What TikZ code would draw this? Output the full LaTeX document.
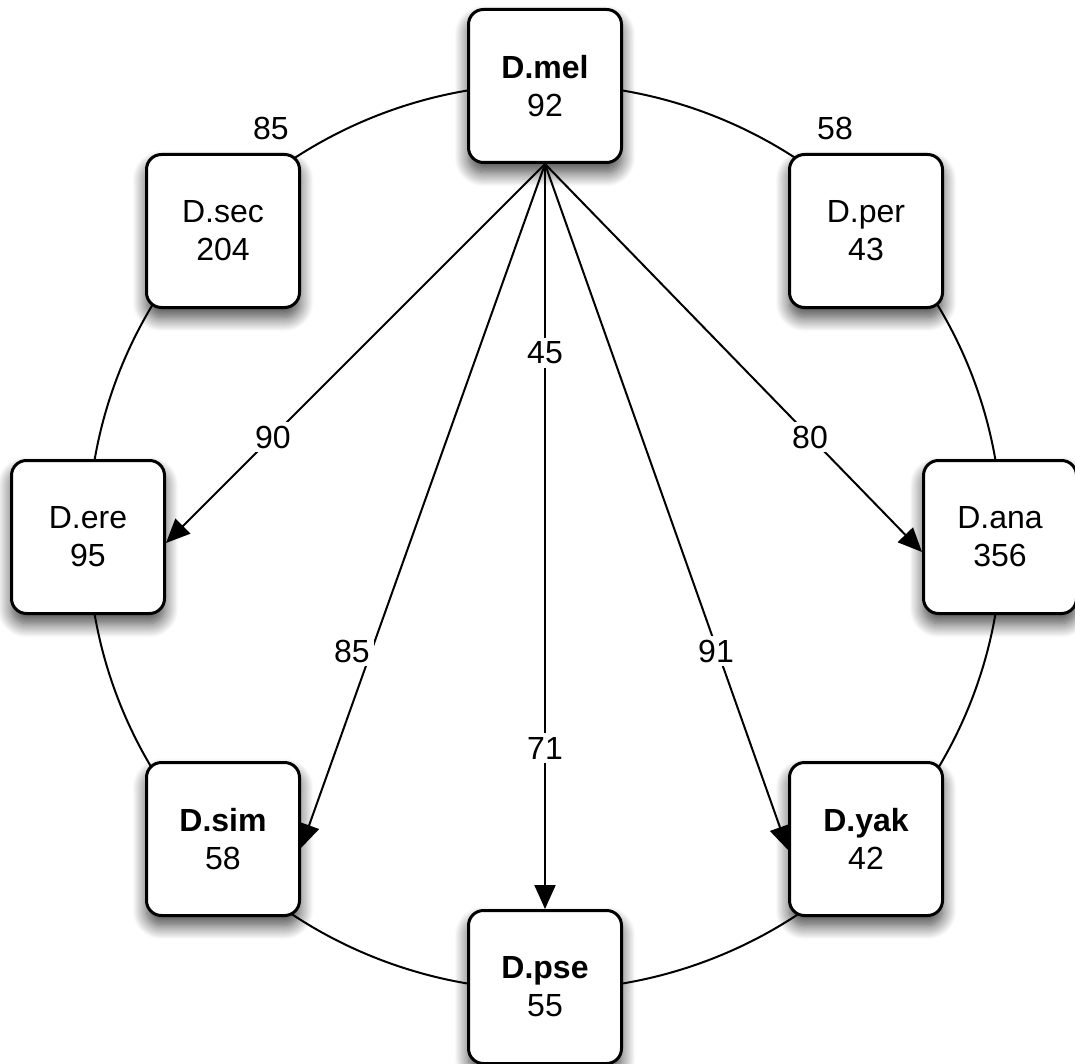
\documentclass[tikz,border=0pt]{standalone}
\usepackage{fontspec}
\setmainfont{Liberation Sans}
\usetikzlibrary{arrows.meta,shadows.blur}
\begin{document}
\begin{tikzpicture}[x=0.5pt,y=-0.5pt,
  species/.style={draw, line width=1.5pt, rounded corners=7.5pt, fill=white,
    minimum width=76.5pt, minimum height=76.5pt, inner sep=0pt, align=center,
    font=\fontsize{16}{19}\selectfont,
    blur shadow={shadow xshift=0pt, shadow yshift=-5pt, shadow blur radius=7pt,
      shadow blur steps=16, shadow opacity=75}},
  link/.style={line width=1pt, -{Triangle[length=12pt,width=10.5pt]}},
  ring/.style={line width=1pt},
  lbl/.style={fill=white, inner sep=2pt, font=\fontsize{16}{19}\selectfont}]
\useasboundingbox (0,0) rectangle (1075,1064);

% outer ring behind the species boxes
\draw[ring] (545,537) ellipse [x radius=228.5pt, y radius=226.5pt];

% species boxes
\node[species] (mel) at (545,86)  {\textbf{D.mel}\\92};
\node[species] (sec) at (223,231) {D.sec\\204};
\node[species] (per) at (866,231) {D.per\\43};
\node[species] (ere) at (88,537)  {D.ere\\95};
\node[species] (ana) at (1000,537) {D.ana\\356};
\node[species] (sim) at (223,839) {\textbf{D.sim}\\58};
\node[species] (yak) at (866,839) {\textbf{D.yak}\\42};
\node[species] (pse) at (545,987) {\textbf{D.pse}\\55};

% arrows out of D.mel
\draw[link] (mel.south) -- ([yshift=-3pt]ere.east);
\draw[link] (mel.south) -- ([yshift=-4.5pt]sim.east);
\draw[link] (mel.south) -- (pse.north);
\draw[link] (mel.south) -- ([yshift=-5.5pt]yak.west);
\draw[link] (mel.south) -- ([yshift=-7.5pt]ana.west);

% edge labels
\node[lbl] (l90) at (273,437) {90};
\node[lbl] (l85) at (352,651) {85};
\node[lbl] (l45) at (545,353) {45};
\node[lbl] (l71) at (545,748) {71};
\node[lbl] (l91) at (716,651) {91};
\node[lbl] (l80) at (810,437) {80};
\node[lbl] (t85) at (271,128) {85};
\node[lbl] (t58) at (835,128) {58};
\end{tikzpicture}
\end{document}
